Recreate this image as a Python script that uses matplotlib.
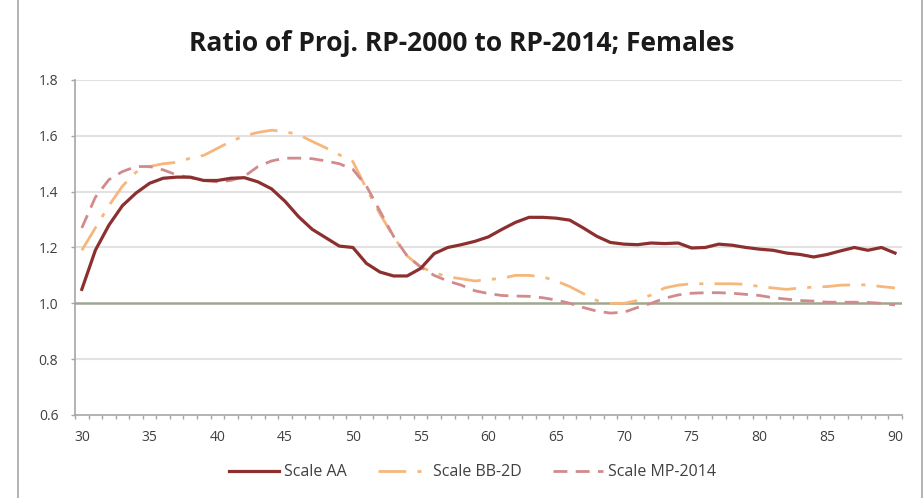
import matplotlib.pyplot as plt
from matplotlib.patches import Rectangle

# Ages 30..90
ages = list(range(30, 91))

scale_aa = [1.05, 1.19, 1.28, 1.35, 1.395, 1.43, 1.448, 1.452, 1.452, 1.44,
            1.44, 1.448, 1.45, 1.435, 1.41, 1.365, 1.31, 1.265, 1.235, 1.205,
            1.2, 1.143, 1.112, 1.098, 1.098, 1.125, 1.178, 1.2, 1.21, 1.222,
            1.238, 1.265, 1.29, 1.308, 1.308, 1.305, 1.298, 1.27, 1.24, 1.218,
            1.212, 1.21, 1.216, 1.214, 1.216, 1.198, 1.2, 1.212, 1.208, 1.2,
            1.194, 1.19, 1.18, 1.175, 1.166, 1.175, 1.188, 1.2, 1.19, 1.2,
            1.18]

scale_bb2d = [1.19, 1.27, 1.35, 1.42, 1.47, 1.49, 1.50, 1.505, 1.52, 1.53,
              1.555, 1.58, 1.60, 1.612, 1.62, 1.615, 1.604, 1.58, 1.557, 1.532,
              1.508, 1.41, 1.32, 1.238, 1.17, 1.13, 1.11, 1.095, 1.088, 1.08,
              1.085, 1.09, 1.10, 1.10, 1.095, 1.08, 1.06, 1.035, 1.01, 1.0,
              1.0, 1.01, 1.03, 1.055, 1.065, 1.07, 1.07, 1.07, 1.07, 1.068,
              1.06, 1.055, 1.05, 1.055, 1.058, 1.06, 1.065, 1.066, 1.066, 1.06,
              1.055]

scale_mp2014 = [1.27, 1.38, 1.443, 1.472, 1.49, 1.49, 1.478, 1.46, 1.45, 1.44,
                1.435, 1.44, 1.455, 1.49, 1.51, 1.52, 1.52, 1.518, 1.51, 1.50,
                1.48, 1.42, 1.33, 1.24, 1.17, 1.13, 1.10, 1.08, 1.065, 1.045,
                1.035, 1.028, 1.026, 1.025, 1.02, 1.012, 1.0, 0.985, 0.972, 0.965,
                0.968, 0.985, 1.0, 1.018, 1.03, 1.036, 1.038, 1.038, 1.036, 1.032,
                1.028, 1.02, 1.015, 1.01, 1.008, 1.004, 1.004, 1.004, 1.003, 1.0,
                0.994]

y_ticks = [0.6, 0.8, 1.0, 1.2, 1.4, 1.6, 1.8]
x_ticks = list(range(30, 91, 5))

plt.rcParams['font.family'] = ['Open Sans', 'DejaVu Sans']

fig = plt.figure(figsize=(9.23, 4.98), dpi=100, facecolor='white')
ax = fig.add_axes([0.0813, 0.1667, 0.8957, 0.6727])

# chart border
fig.patches.append(Rectangle((0.0195, -0.01), 0.979, 1.03, transform=fig.transFigure,
                             fill=False, edgecolor='#a6a6a6', linewidth=1.2))

# gridlines
for v in y_ticks[1:]:
    if v == 1.0:
        ax.axhline(v, color='#9ea890', linewidth=1.8, zorder=1)
    else:
        ax.axhline(v, color='#e2e2e2', linewidth=1.5, zorder=0)

ax.plot(ages, scale_aa, color='#8c2f2f', linewidth=2.3, label='Scale AA', zorder=4)
ax.plot(ages, scale_bb2d, color='#f6b77c', linewidth=2.0, label='Scale BB-2D', zorder=3,
        dashes=(10, 4, 1.5, 4))
ax.plot(ages, scale_mp2014, color='#d28b8c', linewidth=2.0, label='Scale MP-2014', zorder=3,
        dashes=(5, 3))

ax.set_xlim(29.5, 90.5)
ax.set_ylim(0.6, 1.8)
ax.set_yticks(y_ticks)
ax.set_yticklabels(['%.1f' % v for v in y_ticks])
ax.set_xticks(x_ticks)
ax.set_xticks([a + 0.5 for a in range(29, 91)], minor=True)

for s in ['top', 'right']:
    ax.spines[s].set_visible(False)
for s in ['left', 'bottom']:
    ax.spines[s].set_color('#a6a6a6')
    ax.spines[s].set_linewidth(1.2)

ax.tick_params(axis='y', which='major', labelsize=10, colors='#a6a6a6',
               labelcolor='#404040', length=3, width=1, pad=9)
ax.tick_params(axis='x', which='major', labelsize=10, labelcolor='#404040',
               length=0, pad=11)
ax.tick_params(axis='x', which='minor', length=3, width=1, colors='#a6a6a6')

fig.text(0.5, 0.912, 'Ratio of Proj. RP-2000 to RP-2014; Females', ha='center', va='center',
         fontsize=19, fontweight='bold', color='#1a1a1a')

fig.legend(loc='center', bbox_to_anchor=(0.512, 0.052), ncol=3, frameon=False, fontsize=11.5,
           handlelength=3.1, columnspacing=2.0, handletextpad=0.3, labelcolor='#404040')

fig.savefig('out.png', dpi=100, facecolor='white')
